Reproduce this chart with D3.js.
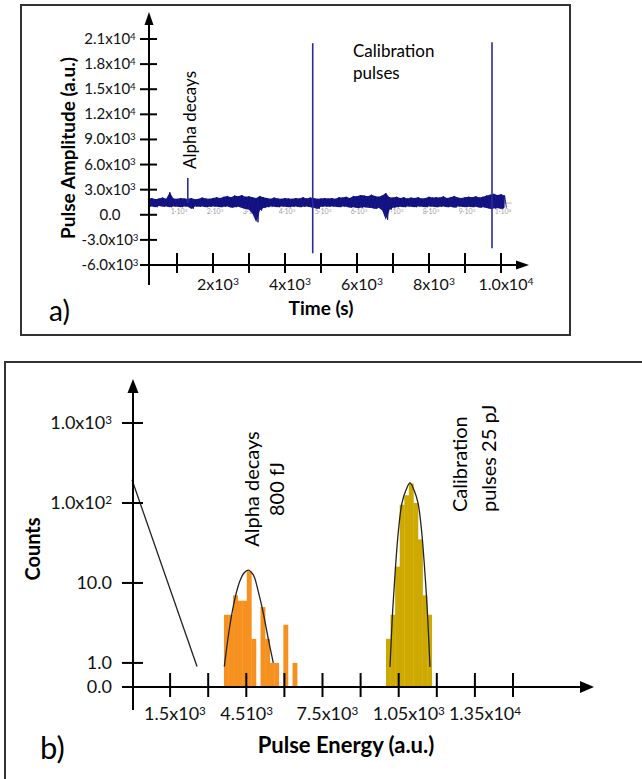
<!DOCTYPE html>
<html lang="en">
<head>
<meta charset="UTF-8" />
<title>Pulse amplitude trace and energy spectrum</title>
<script src="https://d3js.org/d3.v7.min.js"></script>
<style>
  body { margin: 0; background: #fff; }
  svg { display: block; font-family: Lato, "Open Sans", sans-serif; }
</style>
</head>
<body>
<svg id="chart" width="642" height="779"></svg>
<script>
// ---------- panel a) : pulse amplitude vs time ----------
var timeTicks = [1000, 2000, 3000, 4000, 5000, 6000, 7000, 8000, 9000, 10000];
var timeLabelValues = [2000, 4000, 6000, 8000, 10000];
var timeLabels = ["2x10^3", "4x10^3", "6x10^3", "8x10^3", "1.0x10^4"];
var ampTicks = [21000, 18000, 15000, 12000, 9000, 6000, 3000, 0, -3000, -6000];
var ampLabels = ["2.1x10^4", "1.8x10^4", "1.5x10^4", "1.2x10^4", "9.0x10^3", "6.0x10^3", "3.0x10^3", "0.0", "-3.0x10^3", "-6.0x10^3"];
// faint labels left over from the original plot axis
var innerTicks = [1000, 2000, 3000, 4000, 5000, 6000, 7000, 8000, 9000, 10000];
var innerLabels = ["1·10^3", "2·10^3", "3·10^3", "4·10^3", "5·10^3", "6·10^3", "7·10^3", "8·10^3", "9·10^3", "1·10^4"];
var traceBaseline = 1400;

// noise envelope of the trace, every 100 s
var noiseTime = [200, 300, 400, 500, 600, 700, 800, 900, 1000, 1100,
  1200, 1300, 1400, 1500, 1600, 1700, 1800, 1900, 2000, 2100,
  2200, 2300, 2400, 2500, 2600, 2700, 2800, 2900, 3000, 3100,
  3200, 3300, 3400, 3500, 3600, 3700, 3800, 3900, 4000, 4100,
  4200, 4300, 4400, 4500, 4600, 4700, 4800, 4900, 5000, 5100,
  5200, 5300, 5400, 5500, 5600, 5700, 5800, 5900, 6000, 6100,
  6200, 6300, 6400, 6500, 6600, 6700, 6800, 6900, 7000, 7100,
  7200, 7300, 7400, 7500, 7600, 7700, 7800, 7900, 8000, 8100,
  8200, 8300, 8400, 8500, 8600, 8700, 8800, 8900, 9000, 9100,
  9200, 9300, 9400, 9500, 9600, 9700, 9800, 9900, 10000, 10100];
var noiseHigh = [1900, 2000, 1850, 1950, 2050, 1900, 2700, 1950, 1900, 2000,
  1950, 1900, 2000, 1850, 1900, 2050, 1950, 1900, 2000, 2100,
  2000, 2150, 2250, 2100, 2300, 2200, 2350, 2150, 2200, 2100,
  2000, 2250, 2100, 2000, 1900, 2050, 1950, 1900, 2000, 1950,
  1900, 2000, 1950, 2100, 1950, 2050, 2000, 1900, 1950, 2000,
  1950, 2000, 1900, 2100, 2050, 2150, 2000, 2250, 2200, 2350,
  2300, 2200, 2400, 2250, 2150, 2300, 2600, 2100, 2050, 2150,
  2000, 2100, 1950, 2050, 2000, 2100, 1950, 2000, 2150, 2050,
  2100, 2050, 2200, 2000, 2100, 2250, 2050, 2000, 2100, 2150,
  2100, 2200, 2050, 2150, 2300, 2400, 2500, 2350, 2450, 2300];
var noiseLow = [950, 1000, 900, 1050, 950, 1000, 900, 1000, 950, 900,
  1000, 950, 700, 1000, 950, 1000, 900, 950, 1000, 950,
  900, 950, 1000, 850, 900, 950, 800, 700, 600, 100,
  -900, 500, 800, 900, 1000, 950, 900, 1000, 950, 900,
  950, 1000, 900, 950, 1000, 900, 850, 700, 950, 1000,
  950, 1000, 950, 900, 1000, 950, 850, 900, 800, 850,
  900, 850, 800, 700, 850, 500, -600, 600, 850, 900,
  950, 900, 1000, 950, 900, 1000, 950, 900, 1000, 950,
  900, 950, 1000, 900, 950, 850, 1000, 950, 900, 950,
  900, 950, 850, 900, 800, 700, 750, 800, 700, 850];

// single events: alpha decay and the two calibration pulses
var pulseTime = [1300, 4770, 9750];
var pulseHigh = [4400, 20500, 20600];
var pulseLow = [1400, -4600, -4000];

// ---------- panel b) : energy spectrum ----------
var energyTicks = [1500, 3000, 4500, 6000, 7500, 9000, 10500, 12000, 13500, 15000];
var energyLabelValues = [1500, 4500, 7500, 10500, 13500];
var energyLabels = ["1.5x10^3", "4.510^3", "7.5x10^3", "1.05x10^3", "1.35x10^4"];
var countTicks = [0, 1, 10, 100, 1000];
var countLabels = ["0.0", "1.0", "10.0", "1.0x10^2", "1.0x10^3"];
var countFloor = 0.5; // where "0.0" sits on the log axis

var binWidth = 180;
var alphaBins = [3620, 3800, 3980, 4160, 4340, 4520, 4700, 4880, 5060, 5240, 5420, 5600, 5780, 5960, 6140, 6320];
var alphaCounts = [4, 4, 7, 6, 6, 14, 2, 0, 5, 2, 1, 1, 0, 3, 0, 1];
var calBins = [10000, 10180, 10360, 10540, 10720, 10900, 11080, 11260, 11440, 11620];
var calCounts = [2, 4, 16, 95, 125, 175, 100, 35, 7, 4];

// fitted curves
var alphaFitE = [3634, 3858, 4055, 4240, 4409, 4579, 4776, 4972, 5169, 5366, 5563];
var alphaFitN = [0.9, 3.0, 6.4, 10.4, 13.3, 14.5, 12.6, 7.8, 4.2, 2.0, 1.0];
var calFitE = [10157, 10264, 10374, 10492, 10630, 10787, 10945, 11102, 11260, 11398, 11516, 11626, 11732];
var calFitN = [0.89, 4.6, 15.8, 46, 100, 145, 178, 145, 100, 46, 15.8, 4.6, 0.89];
// noise tail at low energy
var tailE = [0, 2560];
var tailN = [195, 0.9];

var svg = d3.select("#chart");

// writes "1.0x10^3" as text with a superscript
function supText(sel, label) {
    var parts = label.split("^");
    sel.append("tspan").text(parts[0]);
    if (parts[1]) {
        sel.append("tspan").attr("dy", "-0.45em").attr("font-size", "0.65em").text(parts[1]);
    }
}

function arrowUp(x, y, w, h) {
    svg.append("path").attr("d", "M" + x + "," + y + "L" + (x - w) + "," + (y + h) + "L" + (x + w) + "," + (y + h) + "Z").attr("fill", "#000");
}
function arrowRight(x, y, w, h) {
    svg.append("path").attr("d", "M" + x + "," + y + "L" + (x - h) + "," + (y - w) + "L" + (x - h) + "," + (y + w) + "Z").attr("fill", "#000");
}

// ================= panel a =================
svg.append("rect")
    .attr("x", 21).attr("y", 5).attr("width", 549).attr("height", 330)
    .attr("fill", "none").attr("stroke", "#333").attr("stroke-width", 2);

var xTop = d3.scaleLinear().domain([0, 10000]).range([141, 501]);
var yTop = d3.scaleLinear().domain([-6000, 21000]).range([265, 39]);
var axA = 149, ayA = yTop(-6000);

// faint original baseline
svg.append("line")
    .attr("x1", xTop(200)).attr("x2", xTop(10300))
    .attr("y1", yTop(traceBaseline)).attr("y2", yTop(traceBaseline))
    .attr("stroke", "#b5b5b5").attr("stroke-width", 1);

svg.selectAll(".inner")
    .data(innerTicks)
    .enter().append("text")
    .attr("class", "inner")
    .attr("x", d => xTop(d) + 2)
    .attr("y", yTop(traceBaseline) + 11)
    .attr("text-anchor", "middle")
    .attr("font-size", "7px")
    .attr("fill", "#a0a0a0")
    .each(function (d, i) { supText(d3.select(this), innerLabels[i]); });

// noise band
var band = noiseTime.map((t, i) => ({ t: t, hi: noiseHigh[i], lo: noiseLow[i] }));
svg.append("path")
    .datum(band)
    .attr("fill", "#16168a")
    .attr("d", d3.area().x(d => xTop(d.t)).y0(d => yTop(d.lo)).y1(d => yTop(d.hi)));

var zig = [];
band.forEach(function (d) {
    zig.push([d.t, d.hi]);
    zig.push([d.t + 50, d.lo]);
});
svg.append("path")
    .datum(zig)
    .attr("fill", "none").attr("stroke", "#10107a").attr("stroke-width", 0.9)
    .attr("d", d3.line().x(d => xTop(d[0])).y(d => yTop(d[1])));

svg.selectAll(".pulse")
    .data(pulseTime)
    .enter().append("line")
    .attr("class", "pulse")
    .attr("x1", d => xTop(d)).attr("x2", d => xTop(d))
    .attr("y1", (d, i) => yTop(pulseLow[i])).attr("y2", (d, i) => yTop(pulseHigh[i]))
    .attr("stroke", "#2a2a9e").attr("stroke-width", 1.6);

// axes a
svg.append("line").attr("x1", axA).attr("x2", axA).attr("y1", 24).attr("y2", 285)
    .attr("stroke", "#000").attr("stroke-width", 2);
arrowUp(axA, 12, 4.5, 13);
svg.append("line").attr("x1", axA).attr("x2", 518).attr("y1", ayA).attr("y2", ayA)
    .attr("stroke", "#000").attr("stroke-width", 2);
arrowRight(529, ayA, 4.5, 13);

svg.selectAll(".ytickA")
    .data(ampTicks)
    .enter().append("line")
    .attr("x1", axA - 9).attr("x2", axA + 8)
    .attr("y1", d => yTop(d)).attr("y2", d => yTop(d))
    .attr("stroke", "#000").attr("stroke-width", 2);
svg.selectAll(".ylabA")
    .data(ampTicks)
    .enter().append("text")
    .attr("x", 110).attr("y", d => yTop(d) + 5)
    .attr("text-anchor", "middle").attr("font-size", "15px").attr("fill", "#111")
    .each(function (d, i) { supText(d3.select(this), ampLabels[i]); });

svg.selectAll(".xtickA")
    .data(timeTicks)
    .enter().append("line")
    .attr("x1", d => xTop(d)).attr("x2", d => xTop(d))
    .attr("y1", ayA - 12).attr("y2", ayA + 8)
    .attr("stroke", "#000").attr("stroke-width", 2);
svg.selectAll(".xlabA")
    .data(timeLabelValues)
    .enter().append("text")
    .attr("x", d => xTop(d) + 5).attr("y", 290)
    .attr("text-anchor", "middle").attr("font-size", "16px").attr("fill", "#111")
    .each(function (d, i) { supText(d3.select(this), timeLabels[i]); });

svg.append("text")
    .attr("transform", "translate(75,148) rotate(-90)")
    .attr("text-anchor", "middle").attr("font-size", "19px").attr("font-weight", "bold")
    .text("Pulse Amplitude (a.u.)");
svg.append("text")
    .attr("x", 321).attr("y", 315)
    .attr("text-anchor", "middle").attr("font-size", "19px").attr("font-weight", "bold")
    .text("Time (s)");
svg.append("text")
    .attr("x", 49).attr("y", 321).attr("font-size", "28px")
    .text("a)");
svg.append("text")
    .attr("transform", "translate(196,120) rotate(-90)")
    .attr("text-anchor", "middle").attr("font-size", "17px")
    .text("Alpha decays");
svg.append("text").attr("x", 353).attr("y", 57).attr("font-size", "17px").text("Calibration");
svg.append("text").attr("x", 353).attr("y", 79).attr("font-size", "17px").text("pulses");

// ================= panel b =================
svg.append("path")
    .attr("d", "M5,782V362H645")
    .attr("fill", "none").attr("stroke", "#333").attr("stroke-width", 2);

var xBot = d3.scaleLinear().domain([0, 15000]).range([132, 513]);
var yBot = d3.scaleLog().domain([countFloor, 1000]).range([687, 423]);
var yCount = v => yBot(Math.max(v, countFloor));
var axB = 133, ayB = yCount(0);

function bars(bins, counts, color) {
    svg.append("g").selectAll("rect")
        .data(bins)
        .enter().append("rect")
        .attr("x", d => xBot(d))
        .attr("width", xBot(binWidth) - xBot(0) + 0.3)
        .attr("y", (d, i) => yCount(counts[i]))
        .attr("height", (d, i) => ayB - yCount(counts[i]))
        .attr("fill", color);
}
bars(alphaBins, alphaCounts, "#f6901e");
bars(calBins, calCounts, "#ceaa00");

var fitLine = d3.line().x(d => xBot(d[0])).y(d => yCount(d[1])).curve(d3.curveCatmullRom);
[[alphaFitE, alphaFitN], [calFitE, calFitN], [tailE, tailN]].forEach(function (s) {
    svg.append("path")
        .datum(s[0].map((e, i) => [e, s[1][i]]))
        .attr("fill", "none").attr("stroke", "#222").attr("stroke-width", 1.3)
        .attr("d", fitLine);
});

// axes b
svg.append("line").attr("x1", axB).attr("x2", axB).attr("y1", 392).attr("y2", 710)
    .attr("stroke", "#000").attr("stroke-width", 2);
arrowUp(axB, 379, 5.5, 14);
svg.append("line").attr("x1", 122).attr("x2", 582).attr("y1", ayB).attr("y2", ayB)
    .attr("stroke", "#000").attr("stroke-width", 2);
arrowRight(594, ayB, 6, 14);

svg.selectAll(".ytickB")
    .data(countTicks)
    .enter().append("line")
    .attr("x1", axB - 11).attr("x2", axB + 10)
    .attr("y1", d => yCount(d)).attr("y2", d => yCount(d))
    .attr("stroke", "#000").attr("stroke-width", 2);
svg.selectAll(".ylabB")
    .data(countTicks)
    .enter().append("text")
    .attr("x", 112).attr("y", d => yCount(d) + 6)
    .attr("text-anchor", "end").attr("font-size", "18px").attr("fill", "#111")
    .each(function (d, i) { supText(d3.select(this), countLabels[i]); });

svg.selectAll(".xtickB")
    .data(energyTicks)
    .enter().append("line")
    .attr("x1", d => xBot(d)).attr("x2", d => xBot(d))
    .attr("y1", ayB - 14).attr("y2", ayB + 10)
    .attr("stroke", "#000").attr("stroke-width", 2);
svg.selectAll(".xlabB")
    .data(energyLabelValues)
    .enter().append("text")
    .attr("x", d => xBot(d) - 26).attr("y", 720)
    .attr("font-size", "18px").attr("fill", "#111")
    .each(function (d, i) { supText(d3.select(this), energyLabels[i]); });

svg.append("text")
    .attr("transform", "translate(40,549) rotate(-90)")
    .attr("text-anchor", "middle").attr("font-size", "20px").attr("font-weight", "bold")
    .text("Counts");
svg.append("text")
    .attr("x", 346).attr("y", 753)
    .attr("text-anchor", "middle").attr("font-size", "22px").attr("font-weight", "bold")
    .text("Pulse Energy (a.u.)");
svg.append("text")
    .attr("x", 40).attr("y", 759).attr("font-size", "31px")
    .text("b)");

var alphaNote = svg.append("text")
    .attr("transform", "translate(259,489) rotate(-90)")
    .attr("text-anchor", "middle").attr("font-size", "20px");
alphaNote.append("tspan").attr("x", 0).attr("dy", 0).text("Alpha decays");
alphaNote.append("tspan").attr("x", 0).attr("dy", 25).text("800 fJ");

var calNote = svg.append("text")
    .attr("transform", "translate(467,512) rotate(-90)")
    .attr("font-size", "20px");
calNote.append("tspan").attr("x", 0).attr("dy", 0).text("Calibration");
calNote.append("tspan").attr("x", 0).attr("dy", 29).text("pulses 25 pJ");
</script>
</body>
</html>
